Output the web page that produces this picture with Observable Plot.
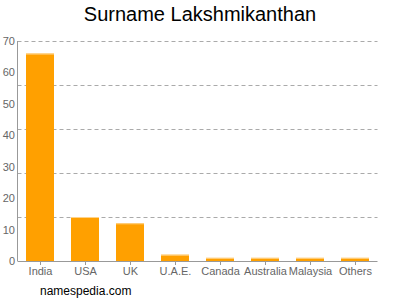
<!DOCTYPE html>
<html>
<head>
<meta charset="utf-8">
<script src="https://cdn.jsdelivr.net/npm/d3@7"></script>
<script src="https://cdn.jsdelivr.net/npm/@observablehq/plot@0.6"></script>
<style>
  body { margin: 0; width: 400px; height: 300px; overflow: hidden; background: #fff; font-family: "Liberation Sans", Arial, Helvetica, sans-serif; }
  #title { height: 30px; font-size: 20px; text-align: center; line-height: 28px; color: #000; }
  #caption { font-size: 12px; color: #000; padding-left: 40px; margin-top: 4px; }
  svg { display: block; }
</style>
</head>
<body>
<div id="title">Surname Lakshmikanthan</div>
<div id="chart"></div>
<div id="caption">namespedia.com</div>
<script>
const countries = ["India", "USA", "UK", "U.A.E.", "Canada", "Australia", "Malaysia", "Others"];
const counts = [66, 14, 12, 2, 1, 1, 1, 1];
const yTicks = [0, 10, 20, 30, 40, 50, 60, 70];
const gridValues = [14, 28, 42, 56, 70];

const data = countries.map((name, i) => ({name, count: counts[i]}));

const chart = Plot.plot({
  width: 400,
  height: 250,
  marginTop: 11,
  marginBottom: 19,
  marginLeft: 17.5,
  marginRight: 22.5,
  style: {fontFamily: "'Liberation Sans', Arial, sans-serif", background: "#fff"},
  x: {domain: countries, paddingInner: 0.38, paddingOuter: 0.19, label: null},
  y: {domain: [0, 70], label: null},
  marks: [
    Plot.gridY(gridValues, {stroke: "#aaa", strokeOpacity: 1, strokeDasharray: "4,3"}),
    Plot.barY(data, {x: "name", y: "count", fill: "#ffa000"}),
    Plot.tickY(data, {x: "name", y: "count", stroke: "#ffd38a", strokeWidth: 1}),
    Plot.ruleY([0], {stroke: "#999"}),
    Plot.axisY({ticks: yTicks, tickSize: 0, tickPadding: 3, fill: "#666", fontSize: 11}),
    Plot.axisX({tickSize: 4, tickPadding: 2, fill: "#666", stroke: "#999", fontSize: 11})
  ]
});

const xr = chart.scale("x").range;
const yr = chart.scale("y").range;
d3.select(chart).append("line")
  .attr("x1", xr[0]).attr("x2", xr[0])
  .attr("y1", yr[0]).attr("y2", yr[1])
  .attr("stroke", "#999");

document.getElementById("chart").appendChild(chart);
</script>
</body>
</html>
